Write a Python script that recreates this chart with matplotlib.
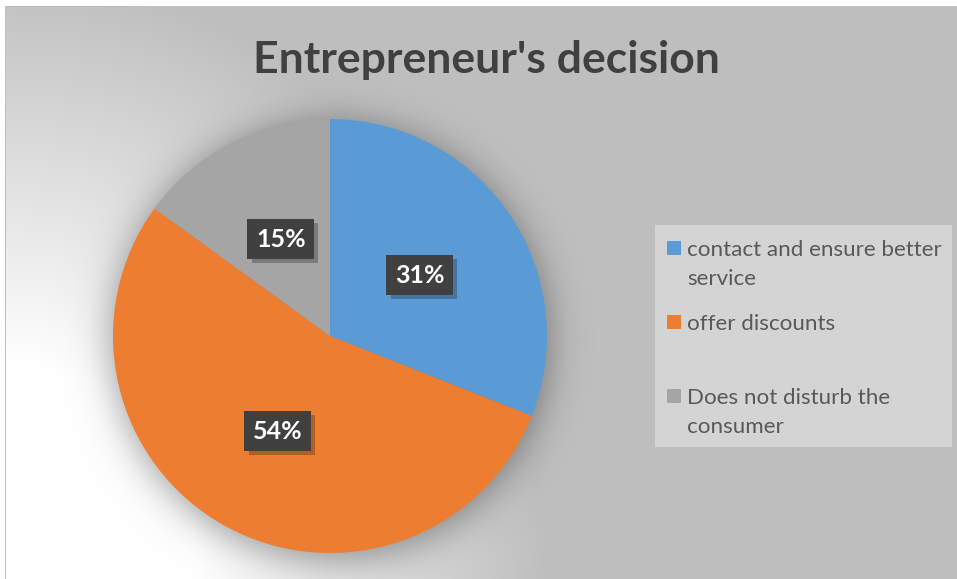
import numpy as np
import matplotlib
matplotlib.use("Agg")
import matplotlib.pyplot as plt
from matplotlib import patheffects
from matplotlib.patches import Rectangle

TITLE = "Entrepreneur's decision"
categories = ["contact and ensure better\nservice", "offer discounts",
              "Does not disturb the\nconsumer"]
shares = [31, 54, 15]
colors = ["#5B9BD5", "#ED7D31", "#A5A5A5"]

W, H, DPI = 957, 579, 100
FONT = "Lato"

fig = plt.figure(figsize=(W / DPI, H / DPI), dpi=DPI)

# pie centre and radius in pixels, measured from the top-left corner
cx, cy, R = 330, 336, 217


def px(x, y):
    """pixel position (top-left origin) -> figure fraction"""
    return x / W, 1 - y / H


# chart area: grey fill with a white glow coming from the lower-left corner
yy, xx = np.mgrid[0:H, 0:W].astype(float)
t = np.sqrt((xx / 560.0) ** 2 + ((H - yy) / 620.0) ** 2)
base = 0.749
light = base + (1 - base) * np.clip((0.97 - t) / 0.62, 0, 1)
# soft shadow behind the pie
d = np.hypot(xx - cx, yy - (cy + 4))
shade = 0.36 / (1 + np.exp((d - R - 2) / 11.0))
light = light * (1 - shade)
light[:6, :] = 1.0
light[:, :5] = 1.0
light[6, 5:] = 0.75
light[6:, 5] = 0.75

bg = fig.add_axes([0, 0, 1, 1])
bg.imshow(np.dstack([light] * 3), extent=(0, W, H, 0), aspect="auto",
          interpolation="bilinear")
bg.axis("off")

ax = fig.add_axes([(cx - R) / W, (H - cy - R) / H, 2 * R / W, 2 * R / H])
wedges, _, autotexts = ax.pie(
    shares, colors=colors, startangle=90, counterclock=False, radius=1,
    autopct="%.0f%%", pctdistance=0.5,
    wedgeprops=dict(linewidth=0),
    textprops=dict(color="white", fontsize=18, fontweight="bold", family=FONT),
)
ax.set_xlim(-1, 1)
ax.set_ylim(-1, 1)
ax.axis("off")

for txt in autotexts:
    txt.set_bbox(dict(boxstyle="square,pad=0.34", facecolor="#404040",
                      edgecolor="none", linewidth=0))
    txt.get_bbox_patch().set_path_effects([
        patheffects.withSimplePatchShadow(offset=(3, -3), shadow_rgbFace="black",
                                          alpha=0.25),
        patheffects.Normal(),
    ])

fig.text(*px(486, 73), TITLE, ha="center", va="baseline", fontsize=32,
         fontweight="bold", color="#404040", family=FONT)

# legend panel
x0, y0 = px(655, 447)
fig.patches.append(Rectangle((x0, y0), 297 / W, 222 / H, transform=fig.transFigure,
                             facecolor="#D4D4D4", edgecolor="none", zorder=1))
for i, (label, color) in enumerate(zip(categories, colors)):
    top = 241 + 74 * i
    mx, my = px(667, top + 14)
    fig.patches.append(Rectangle((mx, my), 14 / W, 14 / H, transform=fig.transFigure,
                                 facecolor=color, edgecolor="none", zorder=2))
    for j, line in enumerate(label.split("\n")):
        fig.text(*px(687, top + 15 + 29 * j), line, ha="left", va="baseline",
                 fontsize=16.1, color="#595959", family=FONT, zorder=3)

fig.savefig("out.png", dpi=DPI)
